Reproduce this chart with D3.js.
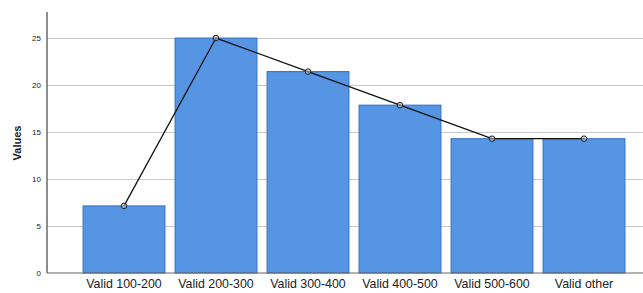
<!DOCTYPE html>
<html>
<head>
<meta charset="utf-8">
<script src="https://cdn.jsdelivr.net/npm/d3@7"></script>
<style>
  body { margin: 0; background: #fff; }
  svg { display: block; font-family: Arial, "Liberation Sans", sans-serif; }
</style>
</head>
<body>
<svg></svg>
<script>
// data
var categories = ["Valid 100-200", "Valid 200-300", "Valid 300-400", "Valid 400-500", "Valid 500-600", "Valid other"];
var values = [7.14, 25.00, 21.43, 17.86, 14.29, 14.29];
var yTicks = [0, 5, 10, 15, 20, 25];

var width = 643, height = 293;
var svg = d3.select("svg").attr("width", width).attr("height", height);

// plot area (don't name these top/left: window.top is taken)
var pLeft = 47, pRight = 643, pTop = 12, pBottom = 273;

var x = d3.scaleBand().domain(categories).range([78, 630]).paddingInner(0.11).paddingOuter(0.055);
var y = d3.scaleLinear().domain([0, 27.77]).range([pBottom, pTop]);

// gridlines
svg.append("g").selectAll("line")
  .data(yTicks.filter(function(d){ return d > 0; }))
  .enter().append("line")
  .attr("x1", pLeft).attr("x2", pRight)
  .attr("y1", function(d){ return y(d) + 0.5; })
  .attr("y2", function(d){ return y(d) + 0.5; })
  .attr("stroke", "#c8c8c8").attr("stroke-width", 1);

// bars
svg.append("g").selectAll("rect")
  .data(values)
  .enter().append("rect")
  .attr("x", function(d, i){ return x(categories[i]); })
  .attr("y", function(d){ return y(d); })
  .attr("width", x.bandwidth())
  .attr("height", function(d){ return pBottom - y(d); })
  .attr("fill", "#5595e3")
  .attr("stroke", "#3670bd")
  .attr("stroke-width", 1);

// line
var line = d3.line()
  .x(function(d, i){ return x(categories[i]) + x.bandwidth() / 2; })
  .y(function(d){ return y(d); });

svg.append("path")
  .datum(values)
  .attr("d", line)
  .attr("fill", "none")
  .attr("stroke", "#111")
  .attr("stroke-width", 1.3);

svg.append("g").selectAll("circle")
  .data(values)
  .enter().append("circle")
  .attr("cx", function(d, i){ return x(categories[i]) + x.bandwidth() / 2; })
  .attr("cy", function(d){ return y(d); })
  .attr("r", 2.8)
  .attr("fill", "#bbb")
  .attr("fill-opacity", 0.6)
  .attr("stroke", "#222")
  .attr("stroke-width", 1);

// y axis
var yAxis = d3.axisLeft(y).tickValues(yTicks).tickSize(0).tickPadding(6);
var gy = svg.append("g").attr("transform", "translate(" + pLeft + ",0)").call(yAxis);
gy.select(".domain").attr("stroke", "#444").attr("stroke-width", 1.2).attr("d", "M0," + pTop + "V" + pBottom);
gy.selectAll("text").attr("font-size", 8).attr("fill", "#222");

// x axis
var xAxis = d3.axisBottom(x).tickSize(0).tickPadding(6);
var gx = svg.append("g").attr("transform", "translate(0," + pBottom + ")").call(xAxis);
gx.select(".domain").attr("stroke", "#666").attr("stroke-width", 1.2).attr("d", "M" + pLeft + ",0H" + pRight);
gx.selectAll("text").attr("font-size", 12.4).attr("fill", "#222");

// y label
svg.append("text")
  .attr("transform", "translate(21,143) rotate(-90)")
  .attr("text-anchor", "middle")
  .attr("font-size", 11)
  .attr("font-weight", "bold")
  .attr("fill", "#222")
  .text("Values");
</script>
</body>
</html>
